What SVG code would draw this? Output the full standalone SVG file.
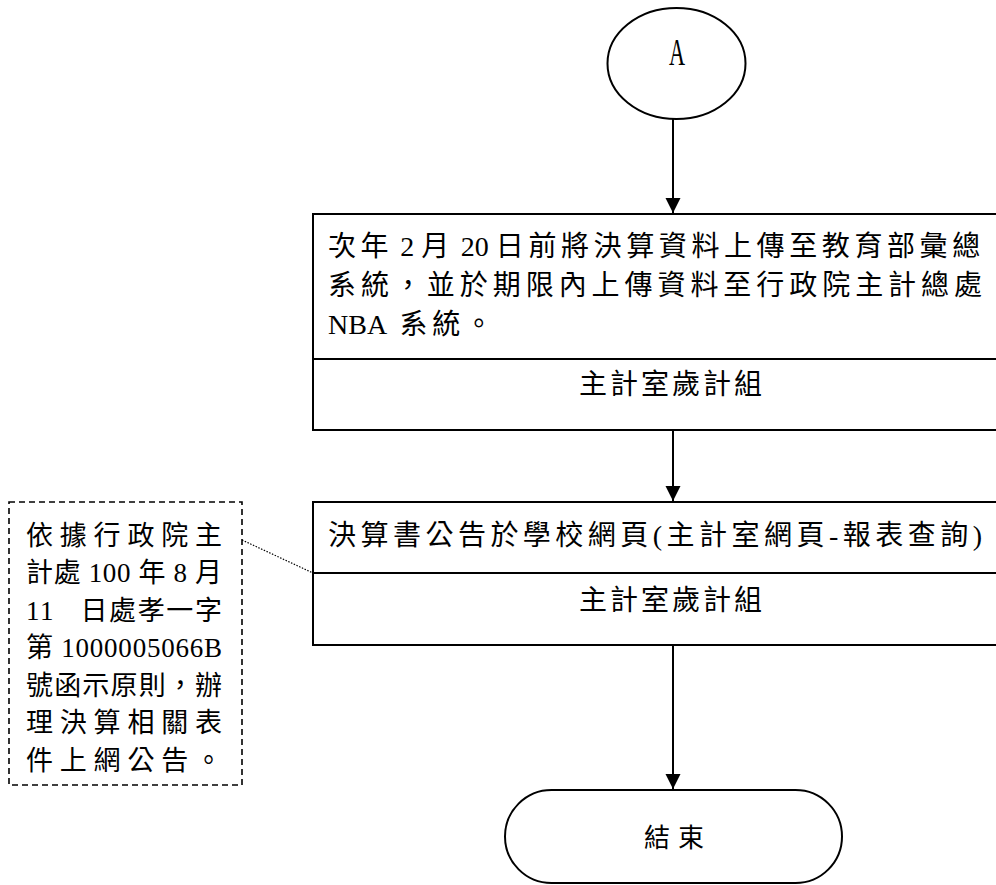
<svg xmlns="http://www.w3.org/2000/svg" width="996" height="885" viewBox="0 0 996 885">
  <style>
    .shape { fill: #ffffff; stroke: #000000; stroke-width: 2; }
    .rule { stroke: #000000; stroke-width: 2; fill: none; }
    .note { fill: #ffffff; stroke: #000000; stroke-width: 1.6; stroke-dasharray: 6 4; }
    .flow { stroke: #000000; stroke-width: 2; fill: none; }
    .link { stroke: #000000; stroke-width: 1.2; stroke-dasharray: 1.5 1.5; fill: none; }
    text { font-family: "Liberation Serif", "Noto Sans CJK TC", serif; fill: #000000; }
    .body { font-size: 28px; }
    .small { font-size: 27px; }
    .cjk { letter-spacing: 4.6px; }
    .latin { letter-spacing: 0; }
  </style>
  <defs>
    <marker id="arrow" markerUnits="userSpaceOnUse" markerWidth="16" markerHeight="16" refX="15" refY="8" orient="auto">
      <path d="M0,0.5 L15,8 L0,15.5 Z" fill="#000000"/>
    </marker>
  </defs>

  <!-- connectors -->
  <g id="connectors">
    <line class="flow" x1="673" y1="119" x2="673" y2="213" marker-end="url(#arrow)"/>
    <line class="flow" x1="673" y1="430" x2="673" y2="501" marker-end="url(#arrow)"/>
    <line class="flow" x1="673" y1="645" x2="673" y2="789" marker-end="url(#arrow)"/>
    <line class="link" x1="242" y1="540" x2="313" y2="573"/>
  </g>

  <!-- off-page connector A -->
  <g id="connector-a">
    <ellipse class="shape" cx="676.5" cy="63.5" rx="69" ry="55.5"/>
    <text transform="translate(677,65) scale(0.6,1)" font-size="37" text-anchor="middle">A</text>
  </g>

  <!-- upload step -->
  <g id="step-upload">
    <rect class="shape" x="313" y="214" width="720" height="216"/>
    <line class="rule" x1="313" y1="359" x2="1033" y2="359"/>
    <text class="body" x="328" y="256" xml:space="preserve"><tspan class="cjk">次年</tspan><tspan class="latin"> 2 </tspan><tspan class="cjk">月</tspan><tspan class="latin"> 20 </tspan><tspan class="cjk">日前將決算資料上傳至教育部彙總</tspan></text>
    <text class="body" x="328" y="295" textLength="654" lengthAdjust="spacing">系統，並於期限內上傳資料至行政院主計總處</text>
    <text class="body" x="328" y="334" xml:space="preserve"><tspan class="latin">NBA  </tspan><tspan class="cjk">系統。</tspan></text>
    <text class="body" x="672" y="394" text-anchor="middle" letter-spacing="3">主計室歲計組</text>
  </g>

  <!-- publish step -->
  <g id="step-publish">
    <rect class="shape" x="313" y="502" width="720" height="143"/>
    <line class="rule" x1="313" y1="573" x2="1033" y2="573"/>
    <text class="body" x="328" y="545" textLength="654" lengthAdjust="spacing">決算書公告於學校網頁(主計室網頁-報表查詢)</text>
    <text class="body" x="672" y="610" text-anchor="middle" letter-spacing="3">主計室歲計組</text>
  </g>

  <!-- annotation -->
  <g id="note">
    <rect class="note" x="9" y="502" width="233" height="283"/>
    <text class="small" x="26" y="545" textLength="196" lengthAdjust="spacing">依據行政院主</text>
    <text class="small" x="26" y="582" textLength="196" lengthAdjust="spacing">計處 100 年 8 月</text>
    <text class="small" x="26" y="620" textLength="196" lengthAdjust="spacing" xml:space="preserve">11   日處孝一字</text>
    <text class="small" x="26" y="657" textLength="196" lengthAdjust="spacing">第 1000005066B</text>
    <text class="small" x="26" y="695" textLength="196" lengthAdjust="spacing">號函示原則，辦</text>
    <text class="small" x="26" y="732" textLength="196" lengthAdjust="spacing">理決算相關表</text>
    <text class="small" x="26" y="770" textLength="196" lengthAdjust="spacing">件上網公告。</text>
  </g>

  <!-- terminator -->
  <g id="end">
    <rect class="shape" x="505" y="790" width="337" height="93" rx="46.5" ry="46.5"/>
    <text font-size="26" x="678" y="847" text-anchor="middle" letter-spacing="8">結束</text>
  </g>
</svg>
